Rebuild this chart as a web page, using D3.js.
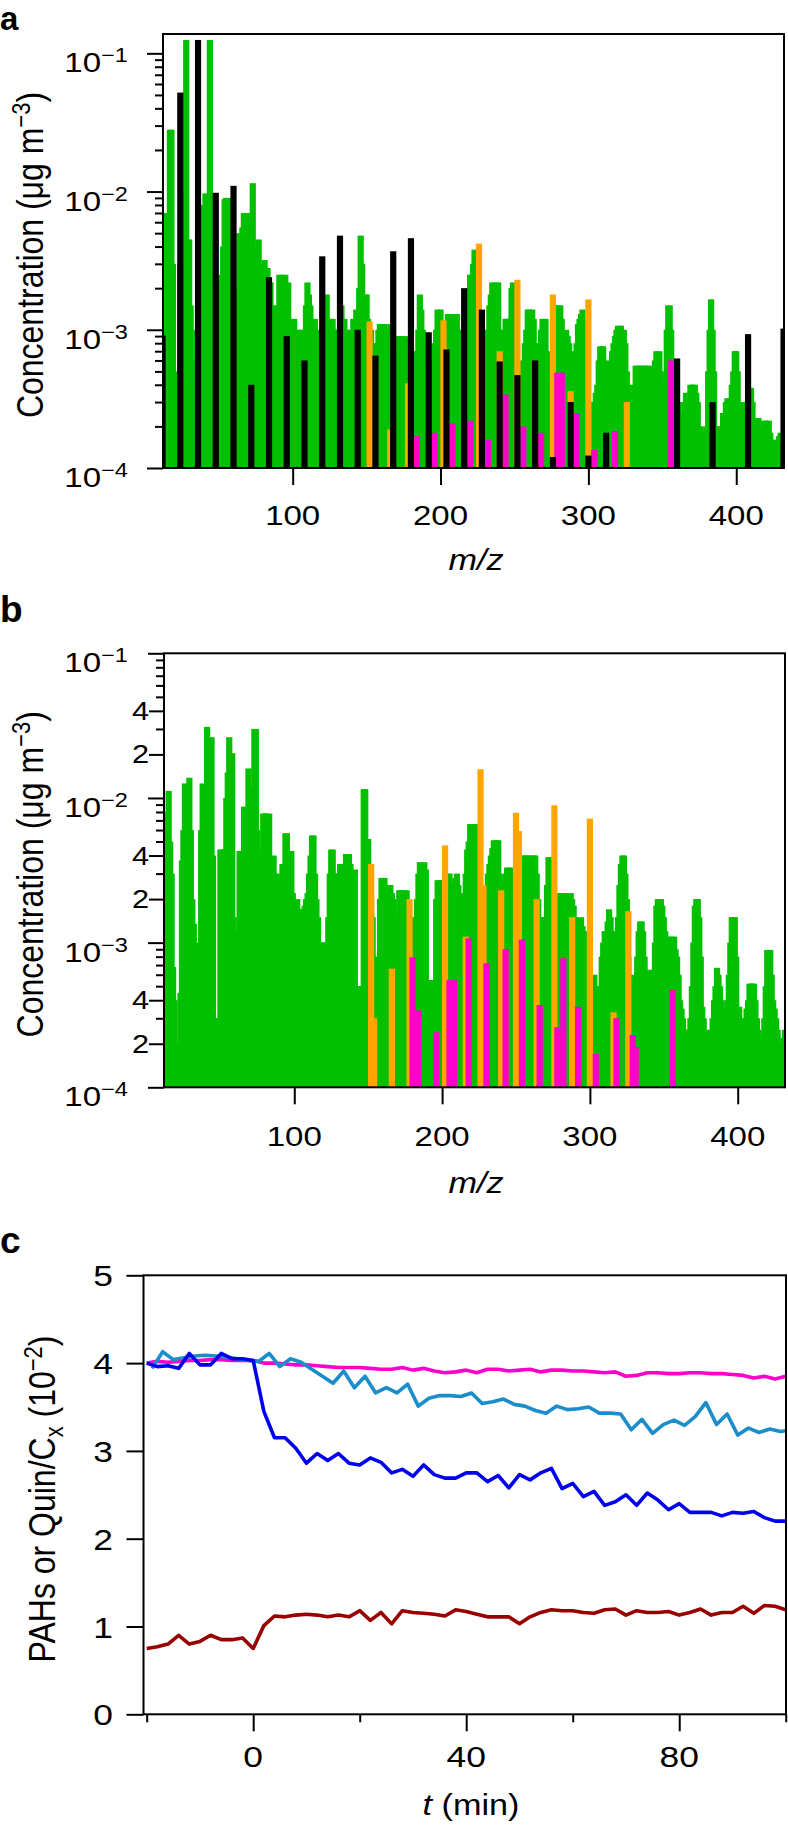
<!DOCTYPE html>
<html lang="en">

<head>
    <meta charset="UTF-8">
    <title>Mass spectra and PAH / Quin ratios</title>
    <script src="https://d3js.org/d3.v7.min.js"></script>
    <style>
        body { margin: 0; background: #ffffff; }
        svg text { font-family: "Liberation Sans", Arial, Helvetica, sans-serif; fill: #000; }
    </style>
</head>

<body>
    <div id="chart"></div>
    <script>
        //DATA
        // spectra: one value per unit mass from m/z 12 to 432, in units of 1e-4 ug m-3
        const mzFirst = 12;

        const greenA = [
            3, 27, 20, 70, 40, 280, 280, 30,
            5, 1, 2, 4, 30, 40, 60, 100, 1250, 45,
            45, 15, 4, 1, 6, 10, 15, 20, 40, 80,
            60, 97, 50, 95, 1250, 40, 5, 2, 6, 10,
            12, 25, 20, 40, 88, 90, 60, 90, 12, 6,
            4, 4, 8, 20, 50, 40, 55, 70, 40, 70,
            30, 60, 20, 115, 40, 30, 35, 45, 25, 30,
            20, 32, 20, 28, 10, 22, 12, 15, 10, 12,
            15, 25, 18, 25, 20, 25, 12, 22, 10, 6,
            8, 12, 9, 10, 7, 10, 6, 10, 6, 15,
            22, 18, 15, 10, 8, 12, 8, 10, 7, 8,
            8, 10, 15, 18, 12, 10, 8, 12, 8, 10,
            8, 10, 6, 15, 10, 12, 8, 10, 8, 10,
            6, 12, 8, 14, 6, 20, 48, 30, 14, 18,
            18, 12, 8, 10, 6, 8, 5, 8, 10, 11,
            11, 8, 11, 9, 10, 8, 11, 6, 4, 6,
            5, 7, 9, 8, 9, 7, 9, 5, 4, 3,
            3, 5, 7, 5, 7, 10, 18, 14, 10, 8,
            5, 4, 3, 5, 4, 6, 8, 10, 14, 12,
            14, 10, 6, 8, 10, 13, 11, 13, 12, 13,
            10, 13, 8, 10, 6, 5, 4, 8, 12, 20,
            25, 25, 30, 38, 20, 10, 8, 6, 6, 8,
            5, 8, 10, 15, 18, 22, 20, 22, 18, 22,
            10, 8, 7, 10, 12, 12, 10, 12, 20, 22,
            10, 8, 6, 5, 4, 5, 6, 8, 10, 14,
            14, 13, 14, 12, 8, 6, 5, 8, 10, 12,
            10, 12, 7, 6, 5, 4, 3, 5, 12, 15,
            15, 15, 12, 9, 8, 10, 9, 8, 6, 7,
            5, 6, 8, 11, 12, 13, 14, 12, 8, 6,
            3, 2, 3, 2, 3, 3.5, 4, 6, 7.6, 7,
            7.6, 5, 4, 5, 6, 5, 7, 8, 9, 10,
            10.7, 10, 10.7, 9, 10, 8, 5, 4, 3.5, 3.5,
            3.2, 4, 5.5, 5, 5.5, 5, 5.5, 5, 5.5, 5,
            5.5, 5, 5, 5.5, 5, 6, 7, 6, 7, 5,
            4, 3, 4, 10, 15, 15, 10, 6, 4, 3,
            2, 3, 2.5, 2, 2.5, 3, 3.5, 3, 3.5, 4,
            4, 4, 4, 3.5, 3, 2, 2, 1.8, 1.6, 1.5,
            2, 5, 10, 16.6, 10, 5, 2, 1.8, 1.6, 2,
            2, 2.5, 2.5, 3, 3.2, 3, 3.2, 4, 5, 7,
            7, 5, 3, 2.5, 2.5, 3, 3, 2.5, 2, 2.5,
            3.8, 3, 2.3, 2.3, 2, 2.3, 2, 1.8, 1.6, 2.2,
            2.2, 2, 2.2, 1.8, 1.5, 1.6, 1.4, 1.6, 1.5, 1.7, 1.8, 1.6, 1.5
        ];

        const greenB = [
            5, 60, 80, 112, 50, 30, 6.8, 4,
            2, 1, 1, 4.5, 37, 60, 126, 100, 80, 138,
            60, 20, 13.5, 3, 3, 10, 10, 60, 126, 100,
            120, 310, 200, 150, 263, 40, 3, 2, 3, 3,
            44, 44, 40, 44, 100, 150, 263, 150, 204, 15,
            12, 12, 12, 43, 43, 30, 87, 87, 40, 160,
            120, 60, 100, 300, 300, 60, 41, 41, 30, 78,
            78, 78, 60, 78, 30, 25, 40, 30, 25, 28,
            30, 28, 35, 30, 57, 57, 35, 25, 43, 22,
            20, 18, 20, 17, 15, 15, 17, 18, 20, 22,
            30, 40, 55, 55, 30, 20, 15, 10, 10, 10,
            10, 10, 10, 15, 30, 44, 44, 30, 25, 30,
            30, 35, 30, 30, 35, 41, 41, 41, 35, 30,
            30, 32, 5, 5, 5, 5, 5, 115, 115, 52,
            52, 35, 20, 15, 8, 6, 6, 6, 20, 28,
            28, 28, 25, 22, 22, 25, 22, 20, 15, 12,
            15, 23, 23, 23, 23, 20, 23, 18, 12, 15,
            12, 10, 15, 20, 30, 36, 34, 32, 36, 32,
            5.5, 5.5, 5.5, 5.5, 5.5, 5.5, 20, 27, 27, 27,
            27, 25, 30, 30, 20, 30, 25, 20, 25, 28,
            30, 25, 20, 22, 20, 18, 30, 44, 50, 66,
            50, 50, 66, 66, 40, 30, 20, 15, 15, 20,
            25, 30, 35, 40, 45, 51, 40, 51, 51, 30,
            25, 20, 25, 30, 33, 33, 30, 33, 30, 25,
            20, 25, 30, 35, 40, 40, 35, 40, 40, 40,
            35, 40, 40, 40, 30, 20, 15, 15, 15, 12,
            15, 25, 39, 39, 20, 10, 8, 10, 20, 22,
            22, 20, 22, 22, 22, 20, 18, 22, 20, 18,
            15, 12, 10, 12, 15, 13, 12, 10, 8, 6,
            5, 4, 5, 6, 5, 4, 4, 5, 8, 10,
            12, 10, 14, 17, 15, 12, 10, 8, 10, 15,
            25, 35, 40, 40, 30, 20, 8, 6, 5, 5,
            5, 6, 8, 12, 14, 14, 12, 8, 6.5, 6,
            5.5, 6, 6.5, 5.5, 10, 18, 20, 20, 20, 18,
            15, 12, 11, 11, 10, 8, 11, 11, 9, 8,
            6, 4, 3.5, 3, 2.5, 2, 2, 2.5, 3, 5,
            10, 18, 20, 20, 15, 8, 3.6, 3, 2.5, 2,
            1.8, 2, 2.5, 3, 4, 5, 6.7, 6, 5, 4,
            3.5, 3.1, 3.5, 4, 6, 10, 15, 15, 15, 8,
            3.6, 3.6, 3, 2.8, 2.5, 3, 3.5, 4, 5.2, 5.2,
            5.2, 5.2, 4, 3, 2.5, 2, 1.8, 2.2, 3, 5,
            8.9, 8.9, 8.9, 6, 4, 3.5, 3, 2.5, 2, 1.8, 2, 2.2, 2.5
        ];

        // single peaks: [m/z, value in 1e-4 ug m-3]
        const blackA = [[12, 9.1], [24, 520], [36, 1250], [48, 98], [60, 110], [72, 4], [84, 24], [96, 9],
            [108, 6], [120, 34], [132, 48], [144, 10], [156, 6.5], [168, 37], [180, 46], [192, 9.6],
            [204, 7.2], [216, 20], [228, 14], [240, 5.9], [252, 4.7], [264, 6], [276, 1.2], [288, 3],
            [300, 1.23], [312, 1.8], [360, 6.2], [384, 3], [408, 9.3], [432, 10.2]];
        const orangeA = [[152, 11.5], [166, 1.9], [178, 4.1], [202, 11.7], [226, 42], [240, 7], [252, 23],
            [276, 18], [288, 3.6], [300, 16.6], [326, 3]];
        const magentaA = [[184, 1.7], [196, 1.8], [208, 2.1], [220, 2.2], [232, 1.6], [244, 3.4], [256, 2],
            [268, 1.8], [279, 4.9], [282, 4.9], [292, 2.5], [304, 1.35], [318, 1.85], [356, 6]];
        const orangeB = [[152, 35], [154, 3], [166, 6.6], [178, 20], [202, 47], [216, 11], [226, 158], [228, 25],
            [240, 23], [250, 79], [252, 59], [264, 20], [276, 89], [288, 15], [300, 72], [316, 3.3], [326, 16.5]];
        const magentaB = [[180, 7.9], [184, 3.4], [196, 2.4], [205, 5.5], [208, 5.5], [218, 10.7], [230, 7.2],
            [243, 9], [254, 10.5], [266, 3.7], [278, 2.6], [282, 7.8], [292, 3.6], [304, 1.7], [318, 3],
            [329, 2.3], [331, 1.9], [356, 4.7]];

        const mzTicks = [100, 200, 300, 400];

        // panel c: ratios in units of 1e-2
        const tEven = [-20, -18, -16, -14, -12, -10, -8, -6, -4, -2, 0, 2, 4, 6, 8, 10, 12, 14, 16, 18, 20,
            22, 24, 26, 28, 30, 32, 34, 36, 38, 40, 42, 44, 46, 48, 50, 52, 54, 56, 58, 60,
            62, 64, 66, 68, 70, 72, 74, 76, 78, 80, 82, 84, 86, 88, 90, 92, 94, 96, 98, 100];
        const tOdd = [-19, -17, -15, -13, -11, -9, -7, -5, -3, -1, 1, 3, 5, 7, 9, 11, 13, 15, 17, 19,
            21, 23, 25, 27, 29, 31, 33, 35, 37, 39, 41, 43, 45, 47, 49, 51, 53, 55, 57, 59,
            61, 63, 65, 67, 69, 71, 73, 75, 77, 79, 81, 83, 85, 87, 89, 91, 93, 95, 97, 99, 100];

        const darkRed = [0.75, 0.77, 0.80, 0.90, 0.80, 0.83, 0.90, 0.85, 0.85, 0.87, 0.75,
            1.01, 1.12, 1.11, 1.13, 1.14, 1.13, 1.11, 1.13, 1.11, 1.18,
            1.07, 1.16, 1.03, 1.18, 1.16, 1.15, 1.14, 1.12, 1.19, 1.17,
            1.14, 1.11, 1.11, 1.11, 1.03, 1.11, 1.16, 1.19, 1.18, 1.18,
            1.16, 1.15, 1.19, 1.20, 1.13, 1.18, 1.16, 1.16, 1.17, 1.13,
            1.16, 1.20, 1.13, 1.16, 1.16, 1.23, 1.15, 1.24, 1.23, 1.19];
        const darkBlue = [4.0, 3.96, 3.97, 3.94, 4.11, 3.98, 3.98, 4.11, 4.05, 4.05, 4.03,
            3.45, 3.15, 3.15, 3.03, 2.86, 2.97, 2.89, 2.97, 2.86, 2.84,
            2.92, 2.87, 2.75, 2.79, 2.71, 2.84, 2.73, 2.69, 2.69, 2.75,
            2.75, 2.65, 2.72, 2.58, 2.73, 2.67, 2.75, 2.80, 2.57, 2.63,
            2.48, 2.54, 2.38, 2.42, 2.5, 2.38, 2.52, 2.44, 2.33, 2.4,
            2.3, 2.3, 2.3, 2.26, 2.3, 2.29, 2.31, 2.24, 2.2, 2.2];
        const magentaC = [4.0, 4.02, 4.01, 4.02, 4.03, 4.03, 4.04, 4.04, 4.03, 4.03, 4.03,
            4.0, 4.0, 3.99, 3.98, 3.98, 3.97, 3.96, 3.95, 3.95, 3.95,
            3.94, 3.93, 3.93, 3.95, 3.92, 3.94, 3.91, 3.89, 3.9, 3.92,
            3.89, 3.93, 3.93, 3.91, 3.92, 3.93, 3.9, 3.92, 3.92, 3.91,
            3.91, 3.9, 3.89, 3.9, 3.85, 3.86, 3.89, 3.89, 3.88, 3.88,
            3.89, 3.89, 3.88, 3.88, 3.87, 3.86, 3.83, 3.85, 3.82, 3.85];
        const lightBlue = [3.94, 4.13, 4.04, 4.06, 4.08, 4.09, 4.08, 4.07, 4.05, 4.03,
            4.02, 4.11, 3.96, 4.05, 4.01, 3.93, 3.85, 3.77, 3.91, 3.72,
            3.85, 3.66, 3.72, 3.66, 3.76, 3.51, 3.6, 3.63, 3.63, 3.62,
            3.66, 3.54, 3.56, 3.59, 3.53, 3.51, 3.46, 3.43, 3.51, 3.47,
            3.48, 3.5, 3.43, 3.43, 3.42, 3.24, 3.36, 3.2, 3.3, 3.35,
            3.29, 3.39, 3.55, 3.3, 3.42, 3.18, 3.26, 3.21, 3.25, 3.22, 3.23];

        //LAYOUT
        const width = 788;
        const height = 1827;
        const stretch = 1.18;      // lettering is a little wider than tall
        const barWidth = 6.2;
        const unit = 1e-4;

        const colours = {
            green: "#00c000",
            orange: "#ffa500",
            magenta: "#ff00cc",
            black: "#000000",
            lightBlue: "#1b8dca",
            blue: "#0000ee",
            darkRed: "#990000"
        };

        const svg = d3.select("#chart")
            .append("svg")
            .attr("width", width)
            .attr("height", height);

        function addText(x, y, size, anchor, turned) {
            return svg.append("text")
                .attr("transform", "translate(" + x + "," + y + ") scale(" + stretch + ",1)" + (turned ? " rotate(-90)" : ""))
                .attr("font-size", size)
                .attr("text-anchor", anchor);
        }

        function panelLetter(letter, y, size) {
            svg.append("text")
                .attr("x", 0)
                .attr("y", y)
                .attr("font-size", size)
                .attr("font-weight", "bold")
                .text(letter);
        }

        function frame(box) {
            svg.append("rect")
                .attr("x", box.left)
                .attr("y", box.top)
                .attr("width", box.right - box.left)
                .attr("height", box.bottom - box.top)
                .attr("fill", "none")
                .attr("stroke", "#000")
                .attr("stroke-width", 2);
        }

        function clip(box, id) {
            svg.append("clipPath")
                .attr("id", id)
                .append("rect")
                .attr("x", box.left)
                .attr("y", box.top)
                .attr("width", box.right - box.left)
                .attr("height", box.bottom - box.top);
        }

        function tickGroup(axis) {
            return svg.append("g")
                .call(axis)
                .call(g => g.select(".domain").remove())
                .call(g => g.selectAll("line").attr("stroke-width", 2));
        }

        //SPECTRUM PANELS
        function spectrum(box, xDomain, yDomain, layers, id, opts) {
            const x = d3.scaleLinear().domain(xDomain).range([box.left, box.right]);
            const y = d3.scaleLog().domain(yDomain).range([box.bottom, box.top]);

            clip(box, id);
            const bars = svg.append("g").attr("clip-path", "url(#" + id + ")");

            layers.forEach(function (layer) {
                bars.append("g")
                    .selectAll("rect")
                    .data(layer.data.filter(d => d[1] > 1))
                    .enter()
                    .append("rect")
                    .attr("x", d => x(d[0]) - barWidth / 2)
                    .attr("width", barWidth)
                    .attr("y", d => y(d[1] * unit))
                    .attr("height", d => y(yDomain[0]) - y(d[1] * unit))
                    .attr("fill", layer.colour);
            });

            frame(box);

            // x ticks
            tickGroup(d3.axisBottom(x).tickValues(mzTicks).tickSize(17).tickFormat(""))
                .attr("transform", "translate(0," + box.bottom + ")");
            mzTicks.forEach(function (v) {
                addText(x(v), box.bottom + opts.xLabelGap, 28, "middle").text(v);
            });

            // y ticks: decades long, the rest short
            const all = y.ticks();
            const isDecade = v => Math.abs(Math.log10(v) - Math.round(Math.log10(v))) < 1e-6;
            const mantissa = v => Math.round(v / Math.pow(10, Math.floor(Math.log10(v) + 1e-9)));
            const decades = all.filter(isDecade);
            const labelled = opts.minorLabels ? all.filter(v => !isDecade(v) && (mantissa(v) === 2 || mantissa(v) === 4)) : [];
            const minor = all.filter(v => !isDecade(v) && labelled.indexOf(v) < 0);

            tickGroup(d3.axisLeft(y).tickValues(decades).tickSize(16).tickFormat(""))
                .attr("transform", "translate(" + box.left + ",0)");
            tickGroup(d3.axisLeft(y).tickValues(minor).tickSize(8).tickFormat(""))
                .attr("transform", "translate(" + box.left + ",0)");
            if (labelled.length) {
                tickGroup(d3.axisLeft(y).tickValues(labelled).tickSize(15).tickFormat(""))
                    .attr("transform", "translate(" + box.left + ",0)");
                labelled.forEach(function (v) {
                    addText(149, y(v) + 9, 26, "end").text(mantissa(v));
                });
            }

            decades.forEach(function (v) {
                const t = addText(128, y(v) + 19, 28, "end").text("10");
                t.append("tspan")
                    .attr("font-size", 20)
                    .attr("dy", -10)
                    .text("\u2212" + Math.round(-Math.log10(v)));
            });

            // axis titles
            addText(476, box.bottom + opts.xTitleGap, 29, "middle")
                .attr("font-style", "italic")
                .text("m/z");

            const yt = addText(43, (box.top + box.bottom) / 2 + 4, 32, "middle", true)
                .text("Concentration (\u03bcg m");
            yt.append("tspan").attr("font-size", 22).attr("dy", -11).text("\u22123");
            yt.append("tspan").attr("dy", 11).text(")");
        }

        const mzStart = d => d.map((v, i) => [mzFirst + i, v]);

        panelLetter("a", 30, 33);
        spectrum({ left: 163, right: 784, top: 34, bottom: 468 }, [12.3, 432.3], [1e-4, 0.138], [
            { data: mzStart(greenA), colour: colours.green },
            { data: orangeA, colour: colours.orange },
            { data: magentaA, colour: colours.magenta },
            { data: blackA, colour: colours.black }
        ], "clipA", { xLabelGap: 57, xTitleGap: 102, minorLabels: false });

        panelLetter("b", 622, 37);
        spectrum({ left: 164, right: 785, top: 653.3, bottom: 1087.3 }, [11.85, 432], [1e-4, 1e-1], [
            { data: mzStart(greenB), colour: colours.green },
            { data: orangeB, colour: colours.orange },
            { data: magentaB, colour: colours.magenta }
        ], "clipB", { xLabelGap: 59, xTitleGap: 106, minorLabels: true });

        //RATIO PANEL
        panelLetter("c", 1253, 37);
        const boxC = { left: 143.5, right: 786, top: 1275.3, bottom: 1714.3 };
        const xC = d3.scaleLinear().domain([-20.6, 100.05]).range([boxC.left, boxC.right]);
        const yC = d3.scaleLinear().domain([0, 5]).range([boxC.bottom, boxC.top]);

        clip(boxC, "clipC");
        const lines = svg.append("g").attr("clip-path", "url(#clipC)");
        const line = d3.line().x(d => xC(d[0])).y(d => yC(d[1]));
        const series = [
            { t: tEven, v: darkRed, colour: colours.darkRed },
            { t: tEven, v: magentaC, colour: colours.magenta },
            { t: tOdd, v: lightBlue, colour: colours.lightBlue },
            { t: tEven, v: darkBlue, colour: colours.blue }
        ];
        series.forEach(function (s) {
            lines.append("path")
                .datum(s.t.map((t, i) => [t, s.v[i]]))
                .attr("d", line)
                .attr("fill", "none")
                .attr("stroke", s.colour)
                .attr("stroke-width", 3.6)
                .attr("stroke-linejoin", "round");
        });

        frame(boxC);

        const tMajor = [0, 40, 80];
        const tMinor = [-20, 20, 60, 100];
        const yTicksC = [0, 1, 2, 3, 4, 5];

        tickGroup(d3.axisBottom(xC).tickValues(tMajor).tickSize(17).tickFormat(""))
            .attr("transform", "translate(0," + boxC.bottom + ")");
        tickGroup(d3.axisBottom(xC).tickValues(tMinor).tickSize(8).tickFormat(""))
            .attr("transform", "translate(0," + boxC.bottom + ")");
        tickGroup(d3.axisLeft(yC).tickValues(yTicksC).tickSize(17).tickFormat(""))
            .attr("transform", "translate(" + boxC.left + ",0)");

        tMajor.forEach(function (v) {
            addText(xC(v), boxC.bottom + 53, 30, "middle").text(v);
        });
        yTicksC.forEach(function (v) {
            addText(113, yC(v) + 11, 30, "end").text(v);
        });

        const xt = addText(471, 1815, 29, "middle");
        xt.append("tspan").attr("font-style", "italic").text("t");
        xt.append("tspan").text(" (min)");

        const ytC = addText(55, 1499, 32, "middle", true).text("PAHs or Quin/C");
        ytC.append("tspan").attr("font-size", 22).attr("dy", 7).text("x");
        ytC.append("tspan").attr("dy", -7).text(" (10");
        ytC.append("tspan").attr("font-size", 22).attr("dy", -11).text("\u22122");
        ytC.append("tspan").attr("dy", 11).text(")");
    </script>
</body>

</html>
